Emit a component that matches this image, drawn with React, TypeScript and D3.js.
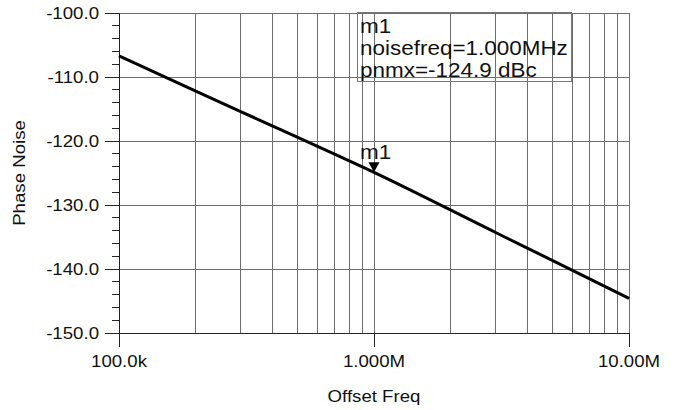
import { useEffect, useRef } from 'react';
import * as d3 from 'd3';

// phase noise trace (Hz, dBc)
const offsetFreqs = [1e5, 2e5, 3e5, 5e5, 1e6, 3e6, 6e6, 1e7];
const phaseNoise = [-106.7, -112.2, -115.4, -119.4, -124.9, -134.3, -140.2, -144.6];

const yTicks = [-100, -110, -120, -130, -140, -150];
const xTicks = [1e5, 1e6, 1e7];
const xTickLabels = ['100.0k', '1.000M', '10.00M'];

const markerFreq = 1e6;
const markerValue = -124.9;
const markerLines = ['m1', 'noisefreq=1.000MHz', 'pnmx=-124.9 dBc'];

const App = () => {
    const ref = useRef<SVGSVGElement>(null);
    const width = 692,
        height = 410;

    useEffect(() => {
        const svg = d3.select(ref.current).attr('width', width).attr('height', height);
        svg.selectAll('*').remove();

        const font = 'Liberation Sans, Arial, sans-serif';
        const sx = 1.13; // text in the source looks a bit wide

        const x = d3.scaleLog().domain([1e5, 1e7]).range([119, 629]);
        const y = d3.scaleLinear().domain([-150, -100]).range([333, 13]);

        const grid = svg.append('g').attr('shape-rendering', 'crispEdges');

        // vertical grid at 2..9 of each decade plus the decades
        const vLines: number[] = [];
        [1e5, 1e6].forEach((dec) => {
            for (let k = 2; k <= 9; k++) vLines.push(dec * k);
        });
        vLines.push(1e6, 1e7);
        grid.selectAll('line.v')
            .data(vLines)
            .enter()
            .append('line')
            .attr('x1', (d) => x(d))
            .attr('x2', (d) => x(d))
            .attr('y1', y(-100))
            .attr('y2', y(-150))
            .attr('stroke', '#6e6e6e')
            .attr('stroke-width', 1);

        grid.selectAll('line.h')
            .data(yTicks)
            .enter()
            .append('line')
            .attr('x1', x(1e5))
            .attr('x2', x(1e7))
            .attr('y1', (d) => y(d))
            .attr('y2', (d) => y(d))
            .attr('stroke', '#6e6e6e')
            .attr('stroke-width', 1);

        // axes
        const axes = svg.append('g').attr('shape-rendering', 'crispEdges').attr('stroke', '#222');
        axes.append('line').attr('x1', x(1e5)).attr('x2', x(1e5)).attr('y1', y(-100)).attr('y2', y(-150) + 14);
        axes.append('line').attr('x1', x(1e5) - 14).attr('x2', x(1e7)).attr('y1', y(-150)).attr('y2', y(-150));

        const minor = d3.range(-150, -99, 2).filter((v) => v % 10 !== 0);
        axes.selectAll('line.ym')
            .data(minor)
            .enter()
            .append('line')
            .attr('x1', x(1e5) - 7)
            .attr('x2', x(1e5))
            .attr('y1', (d) => y(d))
            .attr('y2', (d) => y(d));
        axes.selectAll('line.yM')
            .data(yTicks)
            .enter()
            .append('line')
            .attr('x1', x(1e5) - 14)
            .attr('x2', x(1e5))
            .attr('y1', (d) => y(d))
            .attr('y2', (d) => y(d));
        axes.selectAll('line.xM')
            .data(xTicks)
            .enter()
            .append('line')
            .attr('x1', (d) => x(d))
            .attr('x2', (d) => x(d))
            .attr('y1', y(-150))
            .attr('y2', y(-150) + 14);

        // tick labels
        svg.selectAll('text.yl')
            .data(yTicks)
            .enter()
            .append('text')
            .attr('transform', (d) => `translate(99,${y(d) + 6}) scale(${sx},1)`)
            .attr('text-anchor', 'end')
            .attr('font-family', font)
            .attr('font-size', 16.5)
            .attr('fill', '#111')
            .text((d) => d.toFixed(1));

        svg.selectAll('text.xl')
            .data(xTicks)
            .enter()
            .append('text')
            .attr('transform', (d) => `translate(${x(d)},367) scale(${sx},1)`)
            .attr('text-anchor', 'middle')
            .attr('font-family', font)
            .attr('font-size', 16.5)
            .attr('fill', '#111')
            .text((d, i) => xTickLabels[i]);

        // axis titles
        svg.append('text')
            .attr('transform', `translate(374,402) scale(${sx},1)`)
            .attr('text-anchor', 'middle')
            .attr('font-family', font)
            .attr('font-size', 16.5)
            .attr('fill', '#111')
            .text('Offset Freq');

        svg.append('text')
            .attr('transform', `translate(25,173) rotate(-90) scale(${sx},1)`)
            .attr('text-anchor', 'middle')
            .attr('font-family', font)
            .attr('font-size', 16.5)
            .attr('fill', '#111')
            .text('Phase Noise');

        // trace
        const line = d3
            .line<number>()
            .x((d, i) => x(offsetFreqs[i]))
            .y((d) => y(d))
            .curve(d3.curveMonotoneX);
        svg.append('path')
            .attr('d', line(phaseNoise))
            .attr('fill', 'none')
            .attr('stroke', '#000')
            .attr('stroke-width', 3);

        // marker readout box
        const mx = x(markerFreq);
        const my = y(markerValue);
        svg.append('rect')
            .attr('x', 357.5)
            .attr('y', 12.5)
            .attr('width', 214)
            .attr('height', 69)
            .attr('fill', 'none')
            .attr('stroke', '#777')
            .attr('stroke-width', 1);
        svg.selectAll('text.mk')
            .data(markerLines)
            .enter()
            .append('text')
            .attr('transform', (d, i) => `translate(360,${33 + i * 22}) scale(1.07,1)`)
            .attr('font-family', font)
            .attr('font-size', 21)
            .attr('fill', '#111')
            .text((d) => d);

        // marker triangle on the trace
        svg.append('path')
            .attr('d', `M${mx - 5.5},${my - 10}L${mx + 5.5},${my - 10}L${mx},${my}Z`)
            .attr('fill', '#000');
        svg.append('text')
            .attr('transform', `translate(360,159) scale(1.07,1)`)
            .attr('font-family', font)
            .attr('font-size', 21)
            .attr('fill', '#111')
            .text('m1');
    }, []);

    return <svg ref={ref} style={{ position: 'absolute', left: 0, top: 0, background: '#fff' }}></svg>;
};

export default App;
